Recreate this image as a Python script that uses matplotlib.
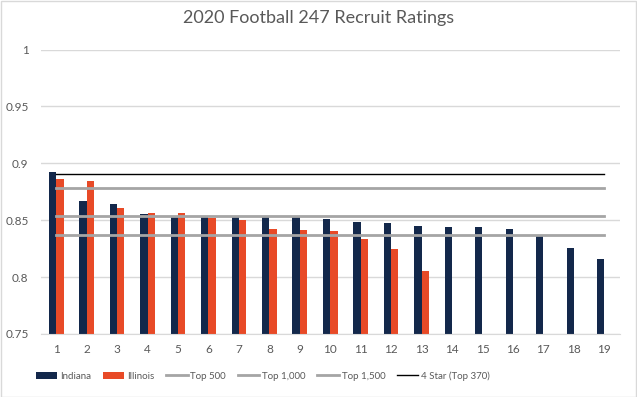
import matplotlib
matplotlib.use("Agg")
import matplotlib.pyplot as plt
import numpy as np
from matplotlib.patches import Rectangle

categories = [str(i) for i in range(1, 20)]
indiana = [0.892, 0.867, 0.864, 0.8555, 0.853, 0.853, 0.853, 0.853, 0.853, 0.851,
           0.8484, 0.8476, 0.845, 0.844, 0.844, 0.8423, 0.837, 0.8256, 0.816]
illinois = [0.886, 0.8845, 0.861, 0.8566, 0.8566, 0.852, 0.850, 0.8423, 0.8414, 0.8405,
            0.8335, 0.8247, 0.8054]
top500 = 0.8786
top1000 = 0.8537
top1500 = 0.8373
four_star = 0.8903

plt.rcParams['font.family'] = ['Lato', 'DejaVu Sans']

fig = plt.figure(figsize=(6.37, 3.97), dpi=100)
ax = fig.add_axes([41/637, 1 - 334/397, (619.5 - 41)/637, (334 - 49.5)/397])

x = np.arange(len(categories))
w = 0.24
navy = '#13284B'
orange = '#E84A27'
ax.bar(x - w/2, indiana, width=w, color=navy, label='Indiana', zorder=2)
ax.bar(np.arange(len(illinois)) + w/2, illinois, width=w, color=orange, label='Illinois', zorder=2)

n = len(categories)
ax.plot(x, [top500]*n, color='#A5A5A5', lw=2, label='Top 500', zorder=3)
ax.plot(x, [top1000]*n, color='#A5A5A5', lw=2, label='Top 1,000', zorder=3)
ax.plot(x, [top1500]*n, color='#A5A5A5', lw=2, label='Top 1,500', zorder=3)
ax.plot(x, [four_star]*n, color='black', lw=1, label='4 Star (Top 370)', zorder=3)

ax.set_xlim(-0.5, n - 0.5)
ax.set_ylim(0.75, 1.0)
ax.set_yticks([0.75, 0.8, 0.85, 0.9, 0.95, 1.0])
ax.set_yticklabels(['0.75', '0.8', '0.85', '0.9', '0.95', '1'])
ax.set_xticks(x)
ax.set_xticklabels(categories)
ax.tick_params(axis='both', length=0, labelsize=8.5, colors='#595959')
ax.tick_params(axis='x', pad=7)
ax.tick_params(axis='y', pad=9)
ax.grid(axis='y', color='#D9D9D9', lw=1, zorder=0)
ax.set_axisbelow(True)
for s in ['top', 'right', 'left']:
    ax.spines[s].set_visible(False)
ax.spines['bottom'].set_color('#D9D9D9')

fig.text(0.5, 1 - 18/397, '2020 Football 247 Recruit Ratings', ha='center', va='center',
         fontsize=13, color='#595959')

handles, labels = ax.get_legend_handles_labels()
order = [4, 5, 0, 1, 2, 3]
fig.legend([handles[i] for i in order], [labels[i] for i in order], loc='center',
           bbox_to_anchor=(263/637, 1 - 376/397), ncol=6, frameon=False, fontsize=7,
           labelcolor='#595959', handlelength=2.2, handleheight=0.8, handletextpad=0.3,
           columnspacing=1.2)

fig.patches.append(Rectangle((0.5/637, 0.5/397), 1 - 1.5/637, 1 - 1.5/397, transform=fig.transFigure,
                             fill=False, edgecolor='#D9D9D9', lw=1))

fig.savefig('out.png', dpi=100)
